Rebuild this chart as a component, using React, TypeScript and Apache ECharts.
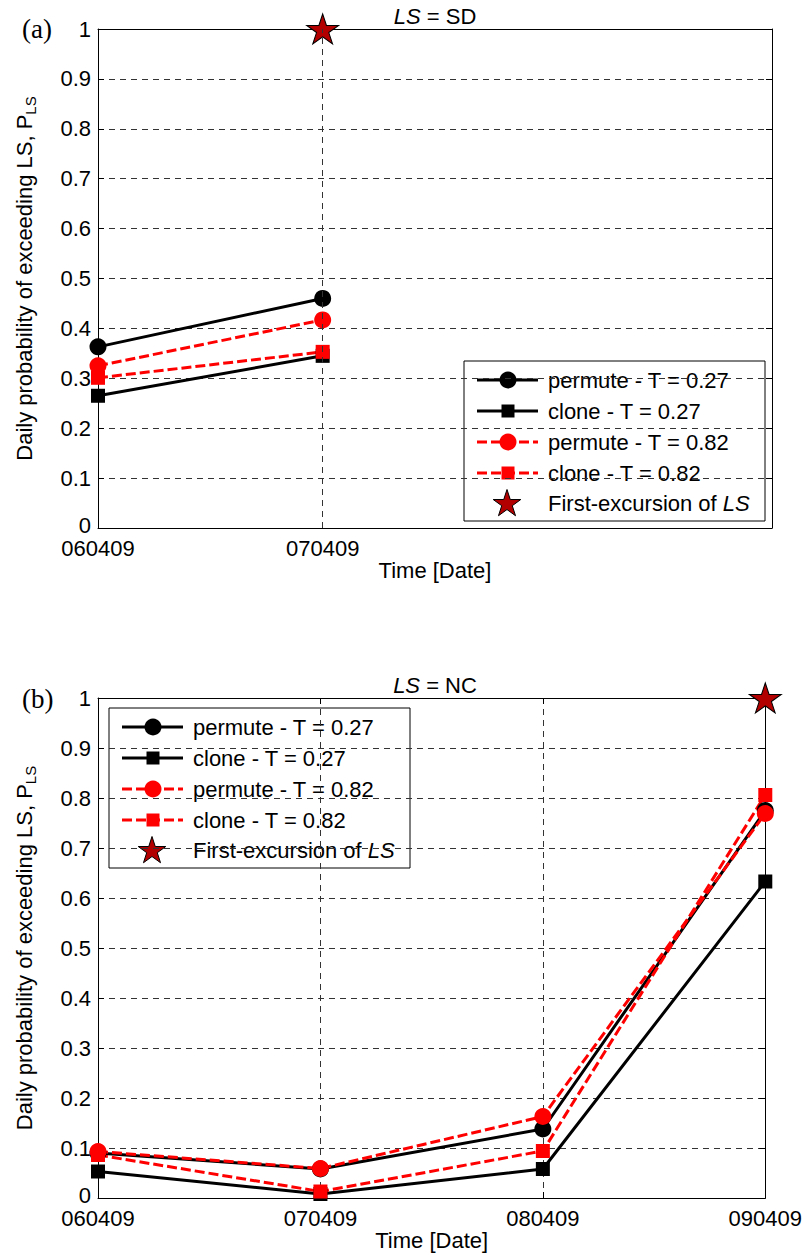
import React, { useEffect, useRef } from 'react';
import * as echarts from 'echarts';

// Day labels on the time axis (ddmmyy)
const dates = ['060409', '070409', '080409', '090409'];

// Panel (a): LS = SD, daily probability of exceeding LS
const sdPermute027 = [0.363, 0.46];
const sdClone027 = [0.265, 0.345];
const sdPermute082 = [0.325, 0.417];
const sdClone082 = [0.301, 0.353];
const sdFirstExcursion: [number, number][] = [[1, 1.0]];

// Panel (b): LS = NC
const ncPermute027 = [0.09, 0.058, 0.138, 0.775];
const ncClone027 = [0.053, 0.008, 0.058, 0.633];
const ncPermute082 = [0.093, 0.059, 0.163, 0.769];
const ncClone082 = [0.086, 0.013, 0.094, 0.806];
const ncFirstExcursion: [number, number][] = [[3, 1.0]];

const seriesNames = [
  'permute - T = 0.27',
  'clone - T = 0.27',
  'permute - T = 0.82',
  'clone - T = 0.82',
  'First-excursion of LS',
];

const FONT = "'Liberation Sans', Arial, Helvetica, sans-serif";
const SERIF = "'Liberation Serif', 'Times New Roman', serif";
const FS = 22;
const RED = '#ff0000';
const STAR_FILL = '#b20000';
const GRID_COLOR = '#333';
const GRID_DASH = [6, 5];
const RED_DASH = [10, 4];
const LINE_W = 3;

const STAR_PATH =
  'path://M50,0 L61.23,34.55 L97.55,34.55 L68.17,55.9 L79.39,90.45 L50,69.1 L20.61,90.45 L31.83,55.9 L2.45,34.55 L38.77,34.55 Z';

const lineStyles = [
  { color: '#000', symbol: 'circle', size: 17, dash: 'solid' as any },
  { color: '#000', symbol: 'rect', size: 14, dash: 'solid' as any },
  { color: RED, symbol: 'circle', size: 17, dash: RED_DASH as any },
  { color: RED, symbol: 'rect', size: 14, dash: RED_DASH as any },
];

const toPoints = (arr: number[]) => arr.map((v, i) => [i, v]);

function starPoints(cx: number, cy: number, R: number) {
  const r = R * 0.382;
  const pts: number[][] = [];
  for (let k = 0; k < 10; k++) {
    const a = (-90 + k * 36) * (Math.PI / 180);
    const rad = k % 2 === 0 ? R : r;
    pts.push([cx + rad * Math.cos(a), cy + rad * Math.sin(a)]);
  }
  return pts;
}

function legendBox(left: number, top: number) {
  const rows = [19, 50, 81, 112, 142];
  const children: any[] = [
    {
      type: 'rect',
      shape: { x: 0, y: 0, width: 301, height: 160 },
      style: { fill: '#fff', stroke: '#000', lineWidth: 1 },
    },
  ];
  lineStyles.forEach((s, i) => {
    const y = rows[i];
    children.push({
      type: 'line',
      shape: { x1: 13, y1: y, x2: 74, y2: y },
      style: { stroke: s.color, lineWidth: LINE_W, lineDash: s.dash === 'solid' ? null : s.dash },
    });
    if (s.symbol === 'circle') {
      children.push({ type: 'circle', shape: { cx: 44, cy: y, r: 8.5 }, style: { fill: s.color } });
    } else {
      children.push({ type: 'rect', shape: { x: 37.5, y: y - 6.5, width: 13, height: 13 }, style: { fill: s.color } });
    }
  });
  children.push({
    type: 'polygon',
    shape: { points: starPoints(43, rows[4] + 1, 14.5) },
    style: { fill: STAR_FILL, stroke: '#000', lineWidth: 1 },
  });
  seriesNames.forEach((n, i) => {
    const text = i === 4 ? 'First-excursion of {i|LS}' : n;
    children.push({
      type: 'text',
      x: 84,
      y: rows[i],
      style: {
        text,
        fontSize: FS,
        fontFamily: FONT,
        fill: '#000',
        align: 'left',
        verticalAlign: 'middle',
        textAlign: 'left',
        textVerticalAlign: 'middle',
        rich: { i: { fontStyle: 'italic', fontSize: FS, fontFamily: FONT, fill: '#000' } },
      },
    });
  });
  return { type: 'group', x: left, y: top, z: 100, children };
}

function titleText(label: string, x: number, y: number) {
  return {
    type: 'text',
    x,
    y,
    z: 100,
    style: {
      text: '{i|LS} = ' + label,
      fontSize: FS,
      fontFamily: FONT,
      fill: '#000',
      align: 'center',
      verticalAlign: 'middle',
      textAlign: 'center',
      textVerticalAlign: 'middle',
      rich: { i: { fontStyle: 'italic', fontSize: FS, fontFamily: FONT, fill: '#000' } },
    },
  };
}

function panelLabel(label: string, x: number, y: number) {
  return {
    type: 'text',
    x,
    y,
    z: 100,
    style: {
      text: label,
      fontSize: 27,
      fontFamily: SERIF,
      fill: '#000',
      align: 'left',
      verticalAlign: 'middle',
      textAlign: 'left',
      textVerticalAlign: 'middle',
    },
  };
}

const axisLineStyle = { show: true, lineStyle: { color: '#000', width: 1 } };

function bottomXAxis(gridIndex: number, shown: number[], splitLine: boolean) {
  return {
    type: 'value',
    gridIndex,
    position: 'bottom',
    min: 0,
    max: 3,
    interval: 1,
    axisLine: { ...axisLineStyle, onZero: false },
    axisTick: { show: true, inside: true, length: 6, lineStyle: { color: '#000' }, customValues: shown },
    axisLabel: {
      show: true,
      customValues: shown,
      showMinLabel: true,
      showMaxLabel: true,
      formatter: (v: number) => dates[Math.round(v)] ?? '',
      color: '#000',
      fontSize: FS,
      fontFamily: FONT,
      lineHeight: 20,
      margin: 10,
    },
    splitLine: { show: splitLine, lineStyle: { color: GRID_COLOR, type: GRID_DASH, width: 1 } },
    name: 'Time [Date]',
    nameLocation: 'middle',
    nameGap: 29,
    nameTextStyle: { color: '#000', fontSize: FS, fontFamily: FONT },
  };
}

function topXAxis(gridIndex: number, shown: number[]) {
  return {
    type: 'value',
    gridIndex,
    position: 'top',
    min: 0,
    max: 3,
    interval: 1,
    axisLine: { ...axisLineStyle, onZero: false },
    axisTick: { show: true, inside: true, length: 6, lineStyle: { color: '#000' }, customValues: shown },
    axisLabel: { show: false },
    splitLine: { show: false },
  };
}

function leftYAxis(gridIndex: number) {
  return {
    type: 'value',
    gridIndex,
    position: 'left',
    min: 0,
    max: 1,
    interval: 0.1,
    axisLine: { ...axisLineStyle, onZero: false },
    axisTick: { show: true, inside: true, length: 6, lineStyle: { color: '#000' } },
    axisLabel: {
      color: '#000',
      fontSize: FS,
      fontFamily: FONT,
      lineHeight: 14,
      margin: 7,
      // the zero label sits a little higher so it clears the date labels below
      formatter: (v: number) => {
        const r = Math.round(v * 10) / 10;
        return r === 0 ? '{z|0}' : String(r);
      },
      rich: { z: { fontSize: FS, fontFamily: FONT, color: '#000', lineHeight: 14, padding: [0, 0, 5, 0] } },
    },
    splitLine: { show: true, lineStyle: { color: GRID_COLOR, type: GRID_DASH, width: 1 } },
    name: '{m|Daily probability of exceeding LS, P}{s|LS}',
    nameLocation: 'middle',
    nameRotate: 90,
    nameGap: 60,
    nameTextStyle: {
      color: '#000',
      fontSize: FS,
      fontFamily: FONT,
      rich: {
        m: { fontSize: FS, fontFamily: FONT, color: '#000' },
        s: { fontSize: 15, fontFamily: FONT, color: '#000', padding: [12, 0, 0, 0] },
      },
    },
  };
}

function rightYAxis(gridIndex: number) {
  return {
    type: 'value',
    gridIndex,
    position: 'right',
    min: 0,
    max: 1,
    interval: 0.1,
    axisLine: { ...axisLineStyle, onZero: false },
    axisTick: { show: true, inside: true, length: 6, lineStyle: { color: '#000' } },
    axisLabel: { show: false },
    splitLine: { show: false },
  };
}

function panelSeries(
  xAxisIndex: number,
  yAxisIndex: number,
  values: number[][],
  firstExcursion: [number, number][],
  extra?: any
) {
  const out: any[] = [];
  if (extra) out.push(extra);
  values.forEach((vals, i) => {
    const s = lineStyles[i];
    out.push({
      type: 'line',
      name: seriesNames[i],
      xAxisIndex,
      yAxisIndex,
      data: toPoints(vals),
      symbol: s.symbol,
      symbolSize: s.size,
      showAllSymbol: true,
      clip: false,
      z: 3,
      lineStyle: { color: s.color, width: LINE_W, type: s.dash },
      itemStyle: { color: s.color, borderWidth: 0 },
    });
  });
  out.push({
    type: 'scatter',
    name: seriesNames[4],
    xAxisIndex,
    yAxisIndex,
    data: firstExcursion,
    symbol: STAR_PATH,
    symbolSize: [32, 30],
    clip: false,
    z: 4,
    itemStyle: { color: STAR_FILL, borderColor: '#000', borderWidth: 1, opacity: 1 },
  });
  return out;
}

export default function App() {
  const ref = useRef<HTMLDivElement>(null);

  useEffect(() => {
    if (!ref.current) return;
    const chart = echarts.init(ref.current, undefined, { renderer: 'svg' });

    // Vertical grid line of panel (a): only the 070409 day carries one
    const sdDayLine = {
      type: 'line',
      name: 'sd-day-grid',
      xAxisIndex: 0,
      yAxisIndex: 0,
      data: [],
      z: 1,
      silent: true,
      markLine: {
        silent: true,
        symbol: 'none',
        label: { show: false },
        lineStyle: { color: GRID_COLOR, type: GRID_DASH, width: 1 },
        data: [{ xAxis: 1 }],
      },
    };

    chart.setOption({
      animation: false,
      backgroundColor: '#fff',
      grid: [
        { left: 98, top: 29, width: 674, height: 499, containLabel: false },
        { left: 98, top: 698, width: 674, height: 500, containLabel: false },
      ],
      xAxis: [
        bottomXAxis(0, [0, 1], false),
        topXAxis(0, [0, 1]),
        bottomXAxis(1, [0, 1, 2, 3], true),
        topXAxis(1, [0, 1, 2, 3]),
      ],
      yAxis: [leftYAxis(0), rightYAxis(0), leftYAxis(1), rightYAxis(1)],
      series: [
        ...panelSeries(0, 0, [sdPermute027, sdClone027, sdPermute082, sdClone082], sdFirstExcursion, sdDayLine),
        ...panelSeries(2, 2, [ncPermute027, ncClone027, ncPermute082, ncClone082], ncFirstExcursion),
      ],
      graphic: [
        titleText('SD', 435, 16),
        titleText('NC', 435, 685),
        panelLabel('(a)', 22, 29),
        panelLabel('(b)', 22, 699),
        legendBox(464, 361),
        legendBox(109, 708),
      ],
    });

    return () => chart.dispose();
  }, []);

  return (
    <div
      ref={ref}
      style={{ position: 'fixed', left: 0, top: 0, width: 805, height: 1254, background: '#fff' }}
    />
  );
}
